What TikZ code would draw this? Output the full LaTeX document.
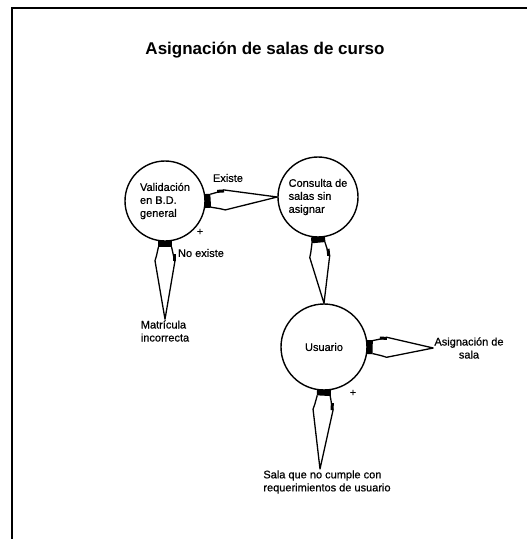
\documentclass[tikz,border=0pt]{standalone}
\usepackage{fontspec}
\setmainfont{Liberation Sans}
\usetikzlibrary{calc}
\tikzset{
  state/.style={circle, draw, line width=1.4pt, minimum size=80pt, inner sep=0pt, align=left, font=\fontsize{11}{13}\selectfont\addfontfeature{FakeBold=0.6}},
  lbl/.style={inner sep=1pt, font=\fontsize{11}{13}\selectfont\addfontfeature{FakeBold=0.6}},
  wedgeline/.style={line width=1.3pt, line join=round}
}
\newcommand\flowwedge[2]{%
  \path let \p1=($(#2)-(#1)$) in \pgfextra{\pgfmathsetmacro\wang{atan2(\y1,\x1)}\pgfmathsetmacro\wlen{veclen(\x1,\y1)}\xdef\wang{\wang}\xdef\wlen{\wlen}};
  \begin{scope}[shift={(#1)}, rotate=\wang]
    \fill (-1,-7) rectangle (5,7);
    \fill (12,7.5) rectangle (19,10.5);
    \draw[wedgeline] (5,6.5) -- (14,8.5) -- (19,10) -- (\wlen,0) -- (19,-10) -- (14,-8.5) -- (5,-6.5);
  \end{scope}}
\begin{document}
\begin{tikzpicture}[x=1pt,y=1pt]
\useasboundingbox (0,0) rectangle (527,-539);
% frame
\draw[line width=2.5pt] (12,-539) -- (12,-8) -- (527,-8);
% title
\node[font=\fontsize{17}{20}\selectfont\bfseries] (title) at (265,-50) {Asignación de salas de curso};
% states
\node[state] (val) at (165,-201) {Validación\\en B.D.\\general};
\node[state] (cons) at (318,-197) {Consulta de\\salas sin\\asignar};
\node[state, minimum size=86pt] (usr) at (324,-347) {Usuario};
% labels
\node[lbl] (exi) at (228,-178) {Existe};
\node[lbl] (noex) at (201,-253) {No existe};
\node[lbl] (plus1) at (200,-232) {+};
\node[lbl] (plus2) at (353,-393) {+};
\node[lbl, align=left] (mat) at (165,-331) {Matrícula\\incorrecta};
\node[lbl, align=center] (asig) at (469,-348) {Asignación de\\sala};
\node[lbl, align=left] (sala) at (327,-482) {Sala que no cumple con\\requerimientos de usuario};
\coordinate (stip) at (320,-469);
% connectors
\flowwedge{val.east}{cons.west}
\flowwedge{val.south}{mat.north}
\flowwedge{cons.south}{usr.north}
\flowwedge{usr.east}{asig.west}
\flowwedge{usr.south}{stip}
\end{tikzpicture}
\end{document}
